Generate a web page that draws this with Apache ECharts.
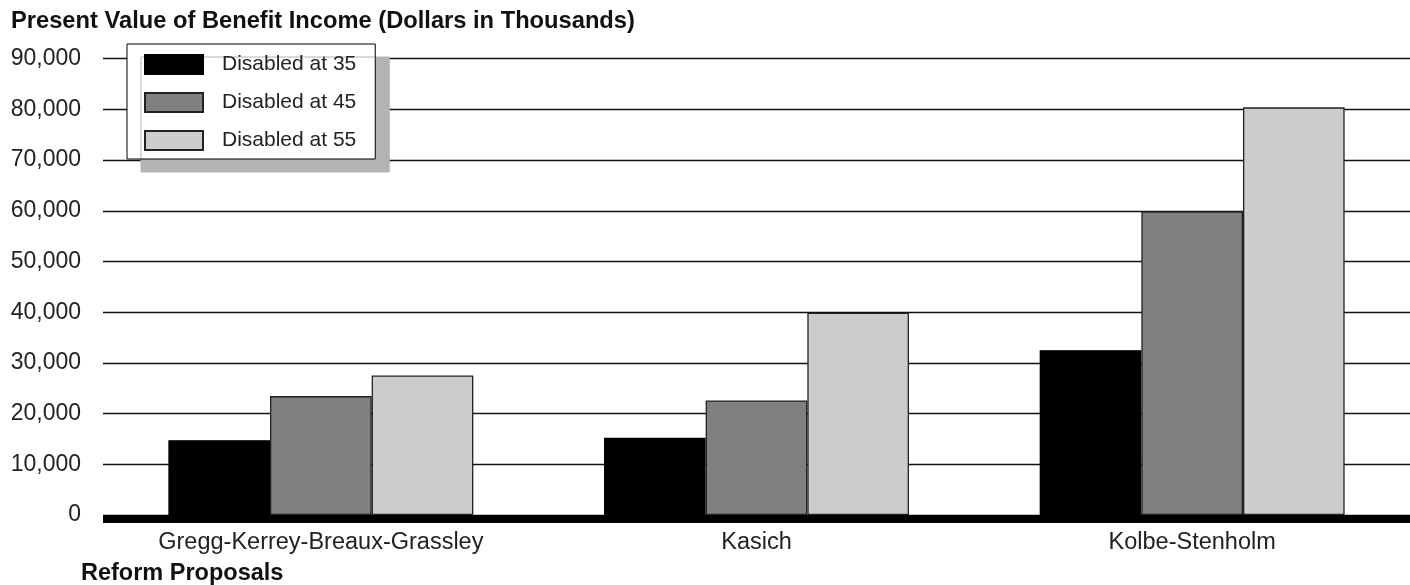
<!DOCTYPE html>
<html>
<head>
<meta charset="utf-8">
<script src="https://cdn.jsdelivr.net/npm/echarts@6/dist/echarts.min.js"></script>
<style>
html,body{margin:0;padding:0;background:#fff;}
#chart{width:1410px;height:585px;}
</style>
</head>
<body>
<div id="chart"></div>
<script>
const categories = ['Gregg-Kerrey-Breaux-Grassley', 'Kasich', 'Kolbe-Stenholm'];
const seriesNames = ['Disabled at 35', 'Disabled at 45', 'Disabled at 55'];
const disabled35 = [14750, 15250, 32500];
const disabled45 = [23450, 22600, 59850];
const disabled55 = [27500, 39900, 80400];
const yTicks = [0, 10000, 20000, 30000, 40000, 50000, 60000, 70000, 80000, 90000];

const chart = echarts.init(document.getElementById('chart'));
const font = 'Liberation Sans, Arial, Helvetica, sans-serif';
const colors = ['#000000', '#808080', '#cccccc'];
const values = [disabled35, disabled45, disabled55];

chart.setOption({
  animation: false,
  backgroundColor: '#ffffff',
  title: [
    {
      text: 'Present Value of Benefit Income (Dollars in Thousands)',
      left: 11, top: 9, padding: 0,
      textStyle: {fontFamily: font, fontSize: 23.7, fontWeight: 'bold', color: '#111'}
    },
    {
      text: 'Reform Proposals',
      left: 81, top: 562, padding: 0,
      textStyle: {fontFamily: font, fontSize: 23.5, fontWeight: 'bold', color: '#111'}
    }
  ],
  legend: {
    orient: 'vertical',
    left: 127, top: 44,
    data: seriesNames,
    icon: 'rect',
    backgroundColor: '#ffffff',
    borderColor: '#000',
    borderWidth: 1,
    padding: [10, 19, 8, 17],
    itemWidth: 58,
    itemHeight: 19,
    itemGap: 17,
    shadowColor: '#b3b3b3',
    shadowBlur: 0,
    shadowOffsetX: 14,
    shadowOffsetY: 13,
    textStyle: {fontFamily: font, fontSize: 21, color: '#222', lineHeight: 19, padding: [0, 0, 0, 14]}
  },
  grid: {left: 103, right: 0, top: 58.7, bottom: 70, containLabel: false},
  xAxis: {
    type: 'category',
    data: categories,
    offset: 4,
    axisLine: {show: true, onZero: false, lineStyle: {color: '#000', width: 8, cap: 'butt'}},
    axisTick: {show: false},
    axisLabel: {fontFamily: font, fontSize: 23.5, color: '#222', margin: 12},
    splitLine: {show: false}
  },
  yAxis: {
    type: 'value',
    min: yTicks[0],
    max: yTicks[yTicks.length - 1],
    interval: 10000,
    axisLine: {show: false},
    axisTick: {show: false},
    axisLabel: {
      fontFamily: font, fontSize: 23, color: '#222', margin: 22,
      formatter: v => v.toLocaleString('en-US')
    },
    splitLine: {show: true, lineStyle: {color: '#111', width: 1.4}}
  },
  series: seriesNames.map((name, i) => ({
    name: name,
    type: 'bar',
    data: values[i],
    barGap: '0%',
    barCategoryGap: '30%',
    itemStyle: {
      color: colors[i],
      borderColor: i === 0 ? '#000' : '#222',
      borderWidth: 1.3
    }
  }))
});
</script>
</body>
</html>
